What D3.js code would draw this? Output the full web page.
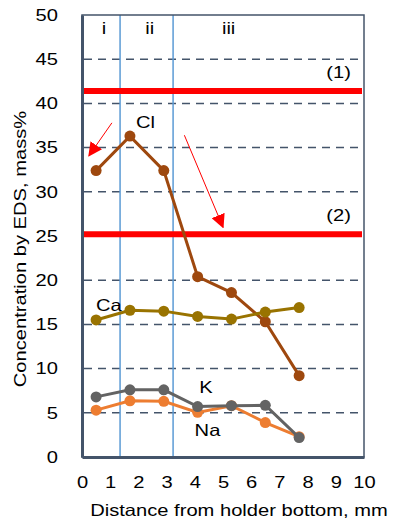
<!DOCTYPE html>
<html>
<head>
<meta charset="utf-8">
<script src="https://cdn.jsdelivr.net/npm/d3@7"></script>
<style>
  body { margin: 0; background: #fff; }
  text { font-family: "Liberation Sans", Arial, sans-serif; fill: #000; }
</style>
</head>
<body>
<div id="chart"></div>
<script>
// distance from holder bottom, mm
const distance = [0.5, 1.7, 2.9, 4.1, 5.3, 6.5, 7.7];
// concentration by EDS, mass%
const cl = [32.4, 36.3, 32.4, 20.4, 18.6, 15.3, 9.2];
const ca = [15.5, 16.6, 16.5, 15.9, 15.6, 16.4, 16.9];
const k  = [6.8, 7.6, 7.6, 5.7, 5.8, 5.85, 2.2];
const na = [5.3, 6.35, 6.3, 5.05, 5.8, 3.9, 2.3];
const xTicks = [0, 1, 2, 3, 4, 5, 6, 7, 8, 9, 10];
const yTicks = [0, 5, 10, 15, 20, 25, 30, 35, 40, 45, 50];
const zoneBounds = [1.35, 3.23];
const zoneLabels = [["i", 0.78], ["ii", 2.4], ["iii", 5.2]];
const limits = [{ v: 41.4, label: "(1)" }, { v: 25.2, label: "(2)" }];

const width = 397, height = 522;
const margin = { top: 15, right: 33, bottom: 65, left: 82 };
const fontSize = "16.5px";
const stretch = 1.22; // text in the picture is drawn wider than usual

const svg = d3.select("#chart").append("svg")
    .attr("width", width)
    .attr("height", height);

const x = d3.scaleLinear().domain([0, 10]).range([margin.left, width - margin.right]);
const y = d3.scaleLinear().domain([0, 50]).range([height - margin.bottom, margin.top]);

const axisColor = "#44546A";

// dashed gridlines
svg.append("g")
  .selectAll("line")
  .data(yTicks.filter(d => d > 0 && d < 50))
  .enter().append("line")
    .attr("x1", x(0) + 2).attr("x2", x(10) - 2)
    .attr("y1", d => y(d)).attr("y2", d => y(d))
    .style("stroke", axisColor)
    .style("stroke-width", 1.5)
    .style("stroke-dasharray", "8,6");

// zone boundaries
svg.append("g")
  .selectAll("line")
  .data(zoneBounds)
  .enter().append("line")
    .attr("x1", d => x(d)).attr("x2", d => x(d))
    .attr("y1", y(50)).attr("y2", y(0))
    .style("stroke", "#5B9BD5")
    .style("stroke-width", 1.5);

// red limit lines
svg.append("g")
  .selectAll("line")
  .data(limits)
  .enter().append("line")
    .attr("x1", x(0) + 1).attr("x2", x(10) - 2)
    .attr("y1", d => y(d.v)).attr("y2", d => y(d.v))
    .style("stroke", "#FF0000")
    .style("stroke-width", 6);

svg.append("g")
  .selectAll("text")
  .data(limits)
  .enter().append("text")
    .attr("x", x(9.1))
    .attr("y", d => y(d.v) - 13)
    .attr("text-anchor", "middle")
    .style("font-size", fontSize)
    .text(d => d.label);

// zone labels
svg.append("g")
  .selectAll("text")
  .data(zoneLabels)
  .enter().append("text")
    .attr("x", d => x(d[1]))
    .attr("y", y(47.9))
    .attr("text-anchor", "middle")
    .style("font-size", fontSize)
    .text(d => d[0]);

// frame: thin top/right
svg.append("rect")
    .attr("x", x(0)).attr("y", y(50))
    .attr("width", x(10) - x(0)).attr("height", y(0) - y(50))
    .style("fill", "none")
    .style("stroke", axisColor)
    .style("stroke-width", 1.5);

// axes
const xAxis = svg.append("g")
    .attr("transform", "translate(0," + y(0) + ")")
    .call(d3.axisBottom(x).tickValues(xTicks).tickSize(0).tickPadding(19));
const yAxis = svg.append("g")
    .attr("transform", "translate(" + x(0) + ",0)")
    .call(d3.axisLeft(y).tickValues(yTicks).tickSize(0).tickPadding(24));
[xAxis, yAxis].forEach(function(a) {
  a.select(".domain").style("stroke", axisColor).style("stroke-width", 3);
  a.selectAll("text").style("font-size", fontSize).style("font-family", "Liberation Sans, Arial, sans-serif");
});

// series
const series = [
  { name: "Cl", values: cl, color: "#9E480E" },
  { name: "Ca", values: ca, color: "#997300" },
  { name: "Na", values: na, color: "#ED7D31" },
  { name: "K",  values: k,  color: "#636363" }
];

const line = d3.line()
    .x(d => x(d[0]))
    .y(d => y(d[1]));

series.forEach(function(s) {
  const pts = distance.map((d, i) => [d, s.values[i]]);
  const g = svg.append("g");
  g.append("path")
      .datum(pts)
      .attr("d", line)
      .style("fill", "none")
      .style("stroke", s.color)
      .style("stroke-width", 3);
  g.selectAll("circle")
    .data(pts)
    .enter().append("circle")
      .attr("cx", d => x(d[0]))
      .attr("cy", d => y(d[1]))
      .attr("r", 5.5)
      .style("fill", s.color);
});

// series labels
const seriesLabels = [
  { text: "Cl", x: 2.25, y: 37.2 },
  { text: "Ca", x: 0.95, y: 16.5 },
  { text: "K",  x: 4.4, y: 7.2 },
  { text: "Na", x: 4.45, y: 2.4 }
];
svg.append("g")
  .selectAll("text")
  .data(seriesLabels)
  .enter().append("text")
    .attr("x", d => x(d.x))
    .attr("y", d => y(d.y))
    .attr("text-anchor", "middle")
    .style("font-size", fontSize)
    .text(d => d.text);

// red arrows
svg.append("defs").append("marker")
    .attr("id", "head")
    .attr("viewBox", "0 0 10 10")
    .attr("refX", 9).attr("refY", 5)
    .attr("markerWidth", 14).attr("markerHeight", 14)
    .attr("markerUnits", "userSpaceOnUse")
    .attr("orient", "auto")
  .append("path")
    .attr("d", "M0,0L10,5L0,10Z")
    .style("fill", "#FF0000");

const arrows = [
  { x1: 1.06, y1: 37.8, x2: 0.25, y2: 34.1 },
  { x1: 3.63, y1: 36.4, x2: 5.0, y2: 26.0 }
];
svg.append("g")
  .selectAll("line")
  .data(arrows)
  .enter().append("line")
    .attr("x1", d => x(d.x1)).attr("y1", d => y(d.y1))
    .attr("x2", d => x(d.x2)).attr("y2", d => y(d.y2))
    .style("stroke", "#FF0000")
    .style("stroke-width", 1)
    .attr("marker-end", "url(#head)");

// axis titles
svg.append("text")
    .attr("x", 239)
    .attr("y", 516)
    .attr("text-anchor", "middle")
    .style("font-size", fontSize)
    .text("Distance from holder bottom, mm");

svg.append("text")
    .attr("transform", "translate(26,249) rotate(-90)")
    .attr("text-anchor", "middle")
    .style("font-size", fontSize)
    .text("Concentration by EDS, mass%");

// widen every text along its baseline
svg.selectAll("text").each(function() {
  const len = this.getComputedTextLength();
  this.setAttribute("textLength", len * stretch);
  this.setAttribute("lengthAdjust", "spacingAndGlyphs");
});
</script>
</body>
</html>
